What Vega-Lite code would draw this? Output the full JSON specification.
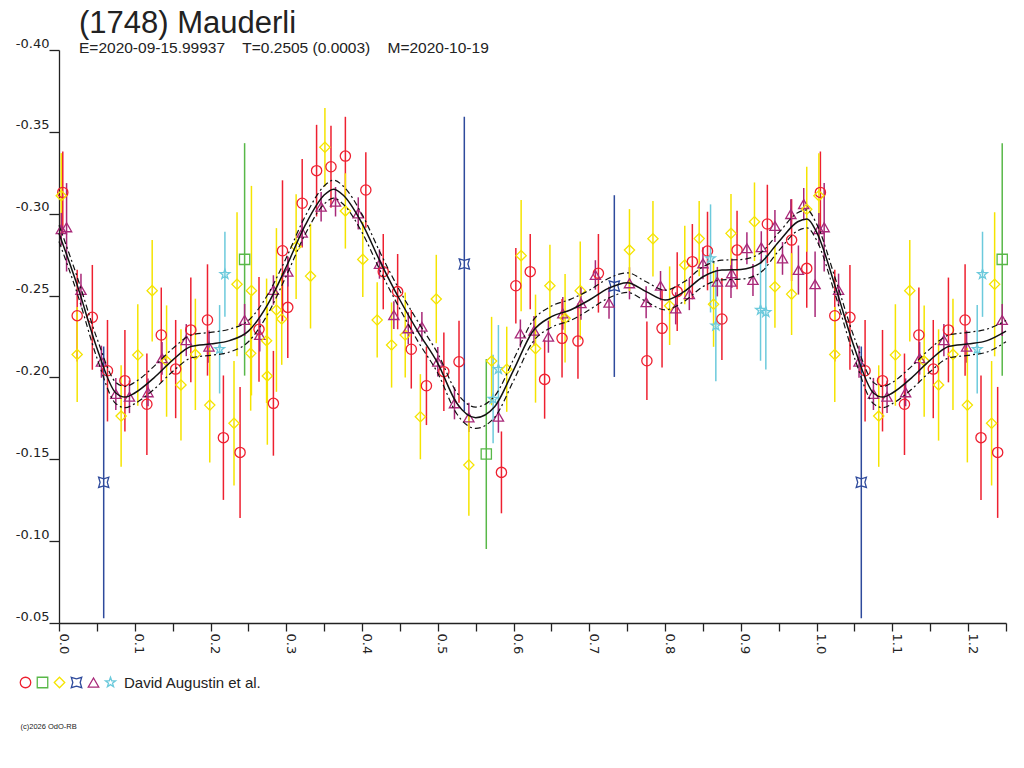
{
  "$schema": "https://vega.github.io/schema/vega-lite/v6.json",
  "width": 947,
  "height": 573,
  "autosize": "none",
  "padding": {"left": 59, "top": 50, "right": 18, "bottom": 145},
  "background": "white",
  "title": {
    "text": "(1748) Mauderli",
    "subtitle": "E=2020-09-15.99937\u00a0\u00a0\u00a0\u00a0T=0.2505 (0.0003)\u00a0\u00a0\u00a0\u00a0M=2020-10-19",
    "anchor": "start",
    "frame": "group",
    "dx": 20,
    "offset": -20,
    "font": "Liberation Sans",
    "fontSize": 31,
    "fontWeight": "normal",
    "color": "#222",
    "subtitleFont": "Liberation Sans",
    "subtitleFontSize": 15.5,
    "subtitleColor": "#222",
    "subtitlePadding": 1
  },
  "config": {
    "view": {"stroke": null},
    "axis": {
      "domainColor": "#222",
      "tickColor": "#222",
      "labelColor": "#222",
      "labelFont": "DejaVu Sans",
      "labelFontSize": 13,
      "domainWidth": 1.3,
      "tickWidth": 1.3,
      "grid": false
    },
    "legend": {
      "orient": "none",
      "legendX": -41,
      "legendY": 625,
      "direction": "horizontal",
      "title": null,
      "padding": 0,
      "symbolSize": 110,
      "symbolStrokeWidth": 1.3,
      "labelFont": "Liberation Sans",
      "labelFontSize": 15,
      "labelColor": "#222",
      "labelLimit": 300,
      "gridAlign": "none"
    }
  },
  "datasets": {
    "obs": [
      {"ph": 0.005, "m": -0.313, "e": 0.025, "s": "R"},
      {"ph": 0.003, "m": -0.311, "e": 0.026, "s": "Y"},
      {"ph": 0.003, "m": -0.2905, "e": 0.010, "s": "P"},
      {"ph": 0.010, "m": -0.2917, "e": 0.027, "s": "P"},
      {"ph": 0.024, "m": -0.2377, "e": 0.028, "s": "R"},
      {"ph": 0.024, "m": -0.214, "e": 0.029, "s": "Y"},
      {"ph": 0.029, "m": -0.2534, "e": 0.010, "s": "P"},
      {"ph": 0.044, "m": -0.2367, "e": 0.032, "s": "R"},
      {"ph": 0.056, "m": -0.2096, "e": 0.0098, "s": "P"},
      {"ph": 0.064, "m": -0.2041, "e": 0.031, "s": "R"},
      {"ph": 0.059, "m": -0.1359, "e": 0.083, "s": "B"},
      {"ph": 0.075, "m": -0.1899, "e": 0.0098, "s": "P"},
      {"ph": 0.087, "m": -0.198, "e": 0.031, "s": "R"},
      {"ph": 0.082, "m": -0.1764, "e": 0.031, "s": "Y"},
      {"ph": 0.093, "m": -0.1882, "e": 0.010, "s": "P"},
      {"ph": 0.104, "m": -0.2137, "e": 0.031, "s": "Y"},
      {"ph": 0.116, "m": -0.1836, "e": 0.031, "s": "R"},
      {"ph": 0.1175, "m": -0.1909, "e": 0.0085, "s": "P"},
      {"ph": 0.123, "m": -0.253, "e": 0.031, "s": "Y"},
      {"ph": 0.135, "m": -0.2259, "e": 0.029, "s": "R"},
      {"ph": 0.136, "m": -0.2117, "e": 0.010, "s": "P"},
      {"ph": 0.142, "m": -0.21, "e": 0.034, "s": "Y"},
      {"ph": 0.154, "m": -0.2051, "e": 0.030, "s": "R"},
      {"ph": 0.161, "m": -0.1954, "e": 0.034, "s": "Y"},
      {"ph": 0.168, "m": -0.2228, "e": 0.0098, "s": "P"},
      {"ph": 0.174, "m": -0.229, "e": 0.032, "s": "R"},
      {"ph": 0.180, "m": -0.2141, "e": 0.034, "s": "Y"},
      {"ph": 0.196, "m": -0.2351, "e": 0.034, "s": "R"},
      {"ph": 0.198, "m": -0.2188, "e": 0.0098, "s": "P"},
      {"ph": 0.199, "m": -0.1831, "e": 0.035, "s": "Y"},
      {"ph": 0.219, "m": -0.263, "e": 0.026, "s": "C"},
      {"ph": 0.212, "m": -0.2172, "e": 0.027, "s": "C"},
      {"ph": 0.217, "m": -0.1632, "e": 0.038, "s": "R"},
      {"ph": 0.235, "m": -0.2569, "e": 0.044, "s": "Y"},
      {"ph": 0.231, "m": -0.172, "e": 0.038, "s": "Y"},
      {"ph": 0.239, "m": -0.1542, "e": 0.040, "s": "R"},
      {"ph": 0.245, "m": -0.2721, "e": 0.071, "s": "G"},
      {"ph": 0.245, "m": -0.2351, "e": 0.0098, "s": "P"},
      {"ph": 0.254, "m": -0.253, "e": 0.064, "s": "Y"},
      {"ph": 0.253, "m": -0.2147, "e": 0.035, "s": "Y"},
      {"ph": 0.264, "m": -0.2294, "e": 0.032, "s": "R"},
      {"ph": 0.265, "m": -0.2259, "e": 0.010, "s": "P"},
      {"ph": 0.274, "m": -0.2224, "e": 0.038, "s": "Y"},
      {"ph": 0.275, "m": -0.2009, "e": 0.042, "s": "Y"},
      {"ph": 0.283, "m": -0.1842, "e": 0.032, "s": "R"},
      {"ph": 0.283, "m": -0.2534, "e": 0.009, "s": "P"},
      {"ph": 0.287, "m": -0.2412, "e": 0.05, "s": "Y"},
      {"ph": 0.294, "m": -0.2357, "e": 0.028, "s": "Y"},
      {"ph": 0.295, "m": -0.2774, "e": 0.043, "s": "R"},
      {"ph": 0.302, "m": -0.2428, "e": 0.031, "s": "R"},
      {"ph": 0.302, "m": -0.2646, "e": 0.009, "s": "P"},
      {"ph": 0.313, "m": -0.2799, "e": 0.032, "s": "Y"},
      {"ph": 0.321, "m": -0.3064, "e": 0.027, "s": "R"},
      {"ph": 0.321, "m": -0.2884, "e": 0.008, "s": "P"},
      {"ph": 0.332, "m": -0.2619, "e": 0.032, "s": "Y"},
      {"ph": 0.340, "m": -0.3263, "e": 0.028, "s": "R"},
      {"ph": 0.346, "m": -0.3043, "e": 0.009, "s": "P"},
      {"ph": 0.351, "m": -0.3406, "e": 0.024, "s": "Y"},
      {"ph": 0.359, "m": -0.3287, "e": 0.025, "s": "R"},
      {"ph": 0.365, "m": -0.3073, "e": 0.009, "s": "P"},
      {"ph": 0.378, "m": -0.3352, "e": 0.024, "s": "R"},
      {"ph": 0.378, "m": -0.3017, "e": 0.023, "s": "Y"},
      {"ph": 0.395, "m": -0.3002, "e": 0.0098, "s": "P"},
      {"ph": 0.405, "m": -0.3145, "e": 0.023, "s": "R"},
      {"ph": 0.401, "m": -0.2721, "e": 0.023, "s": "Y"},
      {"ph": 0.423, "m": -0.2693, "e": 0.009, "s": "P"},
      {"ph": 0.428, "m": -0.2646, "e": 0.023, "s": "R"},
      {"ph": 0.420, "m": -0.2351, "e": 0.023, "s": "Y"},
      {"ph": 0.447, "m": -0.2524, "e": 0.023, "s": "R"},
      {"ph": 0.439, "m": -0.2198, "e": 0.026, "s": "Y"},
      {"ph": 0.442, "m": -0.2381, "e": 0.0085, "s": "P"},
      {"ph": 0.457, "m": -0.2259, "e": 0.026, "s": "Y"},
      {"ph": 0.461, "m": -0.23, "e": 0.0098, "s": "P"},
      {"ph": 0.465, "m": -0.2172, "e": 0.024, "s": "R"},
      {"ph": 0.479, "m": -0.231, "e": 0.009, "s": "P"},
      {"ph": 0.485, "m": -0.1949, "e": 0.024, "s": "R"},
      {"ph": 0.477, "m": -0.176, "e": 0.026, "s": "Y"},
      {"ph": 0.498, "m": -0.2479, "e": 0.027, "s": "Y"},
      {"ph": 0.500, "m": -0.2096, "e": 0.009, "s": "P"},
      {"ph": 0.508, "m": -0.2035, "e": 0.024, "s": "R"},
      {"ph": 0.528, "m": -0.2096, "e": 0.025, "s": "R"},
      {"ph": 0.535, "m": -0.2693, "e": 0.09, "s": "B"},
      {"ph": 0.522, "m": -0.1842, "e": 0.0098, "s": "P"},
      {"ph": 0.541, "m": -0.1756, "e": 0.009, "s": "P"},
      {"ph": 0.541, "m": -0.1465, "e": 0.031, "s": "Y"},
      {"ph": 0.564, "m": -0.1532, "e": 0.058, "s": "G"},
      {"ph": 0.571, "m": -0.21, "e": 0.027, "s": "Y"},
      {"ph": 0.573, "m": -0.1868, "e": 0.027, "s": "C"},
      {"ph": 0.580, "m": -0.205, "e": 0.027, "s": "C"},
      {"ph": 0.580, "m": -0.176, "e": 0.0098, "s": "P"},
      {"ph": 0.591, "m": -0.205, "e": 0.026, "s": "Y"},
      {"ph": 0.584, "m": -0.142, "e": 0.025, "s": "R"},
      {"ph": 0.603, "m": -0.256, "e": 0.023, "s": "R"},
      {"ph": 0.610, "m": -0.2744, "e": 0.034, "s": "Y"},
      {"ph": 0.609, "m": -0.2269, "e": 0.0085, "s": "P"},
      {"ph": 0.622, "m": -0.2646, "e": 0.023, "s": "R"},
      {"ph": 0.627, "m": -0.2285, "e": 0.009, "s": "P"},
      {"ph": 0.629, "m": -0.2176, "e": 0.033, "s": "Y"},
      {"ph": 0.641, "m": -0.1988, "e": 0.024, "s": "R"},
      {"ph": 0.646, "m": -0.2249, "e": 0.0098, "s": "P"},
      {"ph": 0.648, "m": -0.256, "e": 0.025, "s": "Y"},
      {"ph": 0.665, "m": -0.2391, "e": 0.010, "s": "P"},
      {"ph": 0.664, "m": -0.2239, "e": 0.024, "s": "R"},
      {"ph": 0.668, "m": -0.2361, "e": 0.027, "s": "Y"},
      {"ph": 0.688, "m": -0.253, "e": 0.030, "s": "Y"},
      {"ph": 0.689, "m": -0.2453, "e": 0.010, "s": "P"},
      {"ph": 0.685, "m": -0.2222, "e": 0.023, "s": "R"},
      {"ph": 0.712, "m": -0.2636, "e": 0.024, "s": "R"},
      {"ph": 0.708, "m": -0.2626, "e": 0.009, "s": "P"},
      {"ph": 0.726, "m": -0.2456, "e": 0.0098, "s": "P"},
      {"ph": 0.733, "m": -0.2558, "e": 0.0555, "s": "B"},
      {"ph": 0.753, "m": -0.2575, "e": 0.0098, "s": "P"},
      {"ph": 0.753, "m": -0.2778, "e": 0.025, "s": "Y"},
      {"ph": 0.775, "m": -0.2459, "e": 0.0098, "s": "P"},
      {"ph": 0.776, "m": -0.2102, "e": 0.024, "s": "R"},
      {"ph": 0.784, "m": -0.2847, "e": 0.023, "s": "Y"},
      {"ph": 0.794, "m": -0.256, "e": 0.009, "s": "P"},
      {"ph": 0.796, "m": -0.23, "e": 0.024, "s": "R"},
      {"ph": 0.806, "m": -0.2438, "e": 0.024, "s": "Y"},
      {"ph": 0.814, "m": -0.2422, "e": 0.0098, "s": "P"},
      {"ph": 0.816, "m": -0.2524, "e": 0.024, "s": "R"},
      {"ph": 0.826, "m": -0.2687, "e": 0.024, "s": "Y"},
      {"ph": 0.832, "m": -0.2509, "e": 0.0098, "s": "P"},
      {"ph": 0.836, "m": -0.2707, "e": 0.023, "s": "R"},
      {"ph": 0.845, "m": -0.2848, "e": 0.023, "s": "Y"},
      {"ph": 0.850, "m": -0.2697, "e": 0.0098, "s": "P"},
      {"ph": 0.856, "m": -0.2772, "e": 0.024, "s": "R"},
      {"ph": 0.860, "m": -0.2727, "e": 0.033, "s": "C"},
      {"ph": 0.864, "m": -0.2447, "e": 0.026, "s": "Y"},
      {"ph": 0.867, "m": -0.2316, "e": 0.034, "s": "C"},
      {"ph": 0.869, "m": -0.2585, "e": 0.009, "s": "P"},
      {"ph": 0.875, "m": -0.2357, "e": 0.025, "s": "R"},
      {"ph": 0.887, "m": -0.288, "e": 0.024, "s": "Y"},
      {"ph": 0.887, "m": -0.2585, "e": 0.010, "s": "P"},
      {"ph": 0.888, "m": -0.2636, "e": 0.009, "s": "P"},
      {"ph": 0.895, "m": -0.2778, "e": 0.024, "s": "R"},
      {"ph": 0.908, "m": -0.2789, "e": 0.0098, "s": "P"},
      {"ph": 0.916, "m": -0.2595, "e": 0.0098, "s": "P"},
      {"ph": 0.918, "m": -0.2951, "e": 0.024, "s": "Y"},
      {"ph": 0.926, "m": -0.2412, "e": 0.031, "s": "C"},
      {"ph": 0.933, "m": -0.2398, "e": 0.035, "s": "C"},
      {"ph": 0.927, "m": -0.2795, "e": 0.0098, "s": "P"},
      {"ph": 0.935, "m": -0.2937, "e": 0.024, "s": "R"},
      {"ph": 0.945, "m": -0.2925, "e": 0.0098, "s": "P"},
      {"ph": 0.945, "m": -0.2554, "e": 0.025, "s": "Y"},
      {"ph": 0.955, "m": -0.2727, "e": 0.010, "s": "P"},
      {"ph": 0.967, "m": -0.2839, "e": 0.025, "s": "R"},
      {"ph": 0.966, "m": -0.2998, "e": 0.009, "s": "P"},
      {"ph": 0.967, "m": -0.2509, "e": 0.025, "s": "Y"},
      {"ph": 0.976, "m": -0.2656, "e": 0.015, "s": "P"},
      {"ph": 0.987, "m": -0.2666, "e": 0.024, "s": "R"},
      {"ph": 0.983, "m": -0.3059, "e": 0.0098, "s": "P"},
      {"ph": 0.987, "m": -0.3027, "e": 0.026, "s": "Y"},
      {"ph": 0.998, "m": -0.2569, "e": 0.020, "s": "P"},
      {"ph": 1.005, "m": -0.313, "e": 0.025, "s": "R"},
      {"ph": 1.003, "m": -0.311, "e": 0.026, "s": "Y"},
      {"ph": 1.003, "m": -0.2905, "e": 0.010, "s": "P"},
      {"ph": 1.010, "m": -0.2917, "e": 0.027, "s": "P"},
      {"ph": 1.024, "m": -0.2377, "e": 0.028, "s": "R"},
      {"ph": 1.024, "m": -0.214, "e": 0.029, "s": "Y"},
      {"ph": 1.029, "m": -0.2534, "e": 0.010, "s": "P"},
      {"ph": 1.044, "m": -0.2367, "e": 0.032, "s": "R"},
      {"ph": 1.056, "m": -0.2096, "e": 0.0098, "s": "P"},
      {"ph": 1.064, "m": -0.2041, "e": 0.031, "s": "R"},
      {"ph": 1.059, "m": -0.1359, "e": 0.083, "s": "B"},
      {"ph": 1.075, "m": -0.1899, "e": 0.0098, "s": "P"},
      {"ph": 1.087, "m": -0.198, "e": 0.031, "s": "R"},
      {"ph": 1.082, "m": -0.1764, "e": 0.031, "s": "Y"},
      {"ph": 1.093, "m": -0.1882, "e": 0.010, "s": "P"},
      {"ph": 1.104, "m": -0.2137, "e": 0.031, "s": "Y"},
      {"ph": 1.116, "m": -0.1836, "e": 0.031, "s": "R"},
      {"ph": 1.1175, "m": -0.1909, "e": 0.0085, "s": "P"},
      {"ph": 1.123, "m": -0.253, "e": 0.031, "s": "Y"},
      {"ph": 1.135, "m": -0.2259, "e": 0.029, "s": "R"},
      {"ph": 1.136, "m": -0.2117, "e": 0.010, "s": "P"},
      {"ph": 1.142, "m": -0.21, "e": 0.034, "s": "Y"},
      {"ph": 1.154, "m": -0.2051, "e": 0.030, "s": "R"},
      {"ph": 1.161, "m": -0.1954, "e": 0.034, "s": "Y"},
      {"ph": 1.168, "m": -0.2228, "e": 0.0098, "s": "P"},
      {"ph": 1.174, "m": -0.229, "e": 0.032, "s": "R"},
      {"ph": 1.180, "m": -0.2141, "e": 0.034, "s": "Y"},
      {"ph": 1.196, "m": -0.2351, "e": 0.034, "s": "R"},
      {"ph": 1.198, "m": -0.2188, "e": 0.0098, "s": "P"},
      {"ph": 1.199, "m": -0.1831, "e": 0.035, "s": "Y"},
      {"ph": 1.219, "m": -0.263, "e": 0.026, "s": "C"},
      {"ph": 1.212, "m": -0.2172, "e": 0.027, "s": "C"},
      {"ph": 1.217, "m": -0.1632, "e": 0.038, "s": "R"},
      {"ph": 1.235, "m": -0.2569, "e": 0.044, "s": "Y"},
      {"ph": 1.231, "m": -0.172, "e": 0.038, "s": "Y"},
      {"ph": 1.239, "m": -0.1542, "e": 0.040, "s": "R"},
      {"ph": 1.245, "m": -0.2721, "e": 0.071, "s": "G"},
      {"ph": 1.245, "m": -0.2351, "e": 0.0098, "s": "P"}
    ],
    "fit": [
      {"ph": 0, "m": -0.288, "u": -0.293, "l": -0.283},
      {"ph": 0.025, "m": -0.255, "u": -0.260, "l": -0.250},
      {"ph": 0.05, "m": -0.218, "u": -0.224, "l": -0.212},
      {"ph": 0.075, "m": -0.1905, "u": -0.197, "l": -0.184},
      {"ph": 0.0875, "m": -0.188, "u": -0.1945, "l": -0.1815},
      {"ph": 0.1, "m": -0.1905, "u": -0.197, "l": -0.184},
      {"ph": 0.125, "m": -0.1996, "u": -0.2066, "l": -0.1926},
      {"ph": 0.15, "m": -0.2106, "u": -0.2176, "l": -0.2036},
      {"ph": 0.175, "m": -0.219, "u": -0.226, "l": -0.212},
      {"ph": 0.2, "m": -0.2205, "u": -0.2275, "l": -0.2135},
      {"ph": 0.225, "m": -0.2225, "u": -0.2295, "l": -0.2155},
      {"ph": 0.25, "m": -0.2283, "u": -0.2348, "l": -0.2218},
      {"ph": 0.275, "m": -0.2442, "u": -0.2502, "l": -0.2382},
      {"ph": 0.3, "m": -0.2676, "u": -0.2731, "l": -0.2621},
      {"ph": 0.325, "m": -0.293, "u": -0.2985, "l": -0.2875},
      {"ph": 0.35, "m": -0.3114, "u": -0.3169, "l": -0.3059},
      {"ph": 0.3625, "m": -0.315, "u": -0.3205, "l": -0.3095},
      {"ph": 0.375, "m": -0.3114, "u": -0.3169, "l": -0.3059},
      {"ph": 0.4, "m": -0.2941, "u": -0.2996, "l": -0.2886},
      {"ph": 0.425, "m": -0.2697, "u": -0.2752, "l": -0.2642},
      {"ph": 0.45, "m": -0.2473, "u": -0.2528, "l": -0.2418},
      {"ph": 0.475, "m": -0.2271, "u": -0.2331, "l": -0.2211},
      {"ph": 0.5, "m": -0.2086, "u": -0.2146, "l": -0.2026},
      {"ph": 0.525, "m": -0.1843, "u": -0.1908, "l": -0.1778},
      {"ph": 0.55, "m": -0.1754, "u": -0.1819, "l": -0.1689},
      {"ph": 0.575, "m": -0.1821, "u": -0.1886, "l": -0.1756},
      {"ph": 0.6, "m": -0.2045, "u": -0.211, "l": -0.198},
      {"ph": 0.625, "m": -0.2279, "u": -0.2344, "l": -0.2214},
      {"ph": 0.65, "m": -0.2371, "u": -0.2436, "l": -0.2306},
      {"ph": 0.675, "m": -0.2412, "u": -0.2477, "l": -0.2347},
      {"ph": 0.7, "m": -0.2473, "u": -0.2533, "l": -0.2413},
      {"ph": 0.725, "m": -0.2544, "u": -0.2604, "l": -0.2484},
      {"ph": 0.75, "m": -0.2579, "u": -0.2639, "l": -0.2519},
      {"ph": 0.775, "m": -0.2524, "u": -0.2584, "l": -0.2464},
      {"ph": 0.8, "m": -0.2473, "u": -0.2533, "l": -0.2413},
      {"ph": 0.825, "m": -0.2524, "u": -0.2584, "l": -0.2464},
      {"ph": 0.85, "m": -0.2615, "u": -0.2675, "l": -0.2555},
      {"ph": 0.875, "m": -0.2656, "u": -0.2716, "l": -0.2596},
      {"ph": 0.9, "m": -0.266, "u": -0.272, "l": -0.26},
      {"ph": 0.925, "m": -0.2697, "u": -0.2757, "l": -0.2637},
      {"ph": 0.95, "m": -0.2829, "u": -0.2884, "l": -0.2774},
      {"ph": 0.975, "m": -0.2951, "u": -0.3006, "l": -0.2896},
      {"ph": 0.9875, "m": -0.2968, "u": -0.3023, "l": -0.2913},
      {"ph": 1.0, "m": -0.2888, "u": -0.2938, "l": -0.2838},
      {"ph": 1.025, "m": -0.255, "u": -0.260, "l": -0.250},
      {"ph": 1.05, "m": -0.218, "u": -0.224, "l": -0.212},
      {"ph": 1.075, "m": -0.1905, "u": -0.197, "l": -0.184},
      {"ph": 1.0875, "m": -0.188, "u": -0.1945, "l": -0.1815},
      {"ph": 1.1, "m": -0.1905, "u": -0.197, "l": -0.184},
      {"ph": 1.125, "m": -0.1996, "u": -0.2066, "l": -0.1926},
      {"ph": 1.15, "m": -0.2106, "u": -0.2176, "l": -0.2036},
      {"ph": 1.175, "m": -0.219, "u": -0.226, "l": -0.212},
      {"ph": 1.2, "m": -0.2205, "u": -0.2275, "l": -0.2135},
      {"ph": 1.225, "m": -0.2225, "u": -0.2295, "l": -0.2155},
      {"ph": 1.25, "m": -0.2283, "u": -0.2348, "l": -0.2218}
    ]
  },
  "encoding": {
    "x": {
      "field": "ph",
      "type": "quantitative",
      "scale": {"domain": [0, 1.25], "nice": false, "zero": false},
      "axis": {
        "values": [0, 0.05, 0.1, 0.15, 0.2, 0.25, 0.3, 0.35, 0.4, 0.45, 0.5, 0.55, 0.6, 0.65, 0.7, 0.75, 0.8, 0.85, 0.9, 0.95, 1.0, 1.05, 1.1, 1.15, 1.2, 1.25],
        "labelExpr": "abs(datum.value * 10 - round(datum.value * 10)) < 0.001 ? format(datum.value, '.1f') : ''",
        "tickSize": 8,
        "labelAngle": 90,
        "labelAlign": "left",
        "labelBaseline": "alphabetic",
        "labelPadding": 2,
        "labelOverlap": false,
        "labelFlush": false,
        "labelBound": false,
        "title": "(c)2026 OdO-RB",
        "titleX": -39,
        "titleY": 103,
        "titleAlign": "left",
        "titleBaseline": "middle",
        "titleFont": "Liberation Sans",
        "titleFontSize": 7.5,
        "titleFontWeight": "normal",
        "titleColor": "#222"
      }
    },
    "y": {
      "field": "m",
      "type": "quantitative",
      "scale": {"domain": [-0.4, -0.05], "reverse": true, "nice": false, "zero": false},
      "axis": {
        "values": [-0.4, -0.35, -0.3, -0.25, -0.2, -0.15, -0.1, -0.05],
        "labelExpr": "replace(format(datum.value, '.2f'), '\u2212', '-')",
        "title": null,
        "tickSize": 10,
        "labelPadding": 0,
        "labelAlign": "right",
        "labelBaseline": "bottom",
        "labelFlush": false
      }
    },
    "color": {
      "field": "s",
      "type": "nominal",
      "scale": {"domain": ["R", "G", "Y", "B", "P", "C"], "range": ["#ee2030", "#58b848", "#f5e400", "#2e4a9c", "#a82878", "#6ccadc"]},
      "legend": {
        "labelExpr": "datum.value == 'C' ? 'David Augustin et al.' : ''",
        "labelOffset": 6,
        "columnPadding": -5,
        "gridAlign": "none"
      }
    }
  },
  "layer": [
    {
      "data": {"name": "obs"},
      "mark": {"type": "errorbar", "thickness": 1.5},
      "encoding": {
        "yError": {"field": "e"}
      }
    },
    {
      "data": {"name": "obs"},
      "mark": {"type": "point", "filled": false, "strokeWidth": 1.3, "size": 105, "opacity": 1},
      "encoding": {
        "shape": {
          "field": "s",
          "type": "nominal",
          "scale": {"domain": ["R", "G", "Y", "B", "P", "C"], "range": ["circle", "square", "diamond", "M-1,-1L0,-0.7L1,-1L0.7,0L1,1L0,0.7L-1,1L-0.7,0Z", "triangle-up", "M0,-1L0.235,-0.324L0.951,-0.309L0.38,0.124L0.588,0.809L0,0.4L-0.588,0.809L-0.38,0.124L-0.951,-0.309L-0.235,-0.324Z"]},
          "legend": {
            "labelExpr": "datum.value == 'C' ? 'David Augustin et al.' : ''",
            "labelOffset": 6,
            "columnPadding": -5,
            "gridAlign": "none"
          }
        }
      }
    },
    {
      "data": {"name": "fit"},
      "mark": {"type": "line", "color": "#111", "strokeWidth": 1.2, "strokeDash": [6, 3, 2, 3], "interpolate": "monotone"},
      "encoding": {
        "y": {"field": "u", "type": "quantitative", "title": null},
        "color": {"value": "#111"}
      }
    },
    {
      "data": {"name": "fit"},
      "mark": {"type": "line", "color": "#111", "strokeWidth": 1.2, "strokeDash": [6, 3, 2, 3], "interpolate": "monotone"},
      "encoding": {
        "y": {"field": "l", "type": "quantitative", "title": null},
        "color": {"value": "#111"}
      }
    },
    {
      "data": {"name": "fit"},
      "mark": {"type": "line", "color": "#111", "strokeWidth": 1.5, "interpolate": "monotone"},
      "encoding": {
        "color": {"value": "#111"}
      }
    }
  ]
}
